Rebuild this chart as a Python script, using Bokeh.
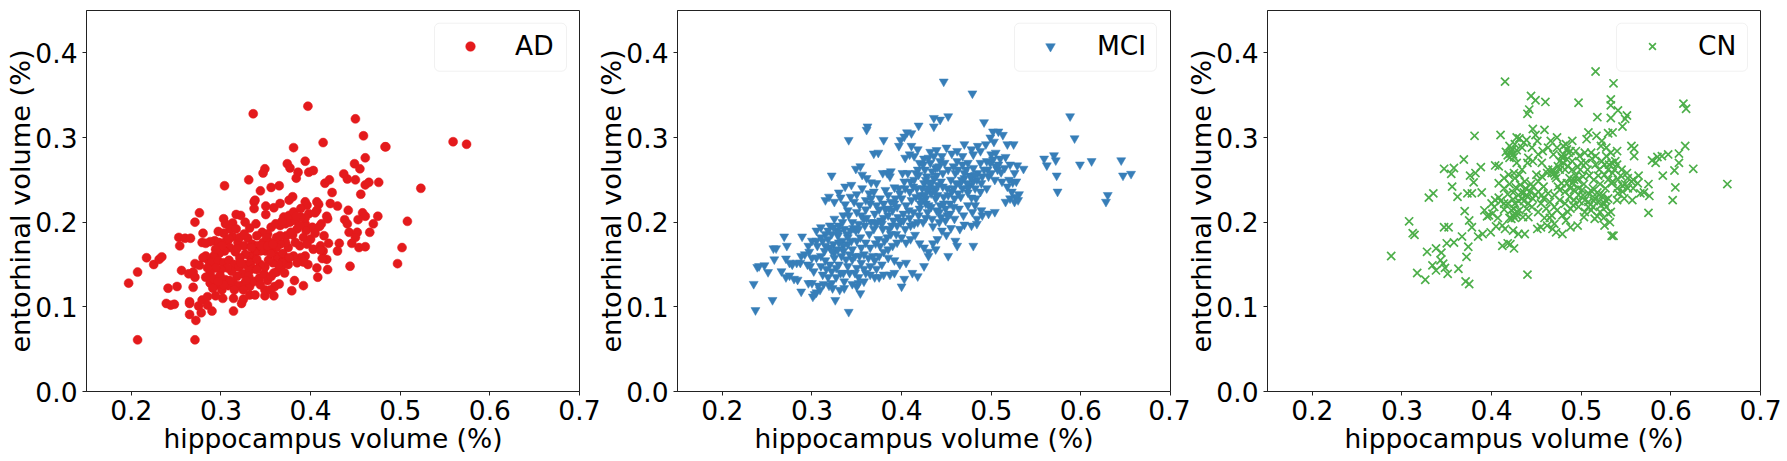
from bokeh.plotting import figure
from bokeh.layouts import row
from bokeh.models import Range1d, FixedTicker, Legend, LegendItem, BoxAnnotation, PrintfTickFormatter
from bokeh.embed import file_html
from bokeh.resources import INLINE

ad_points = [
(.197,.128),(.207,.141),(.217,.158),(.225,.150),(.231,.156),(.234,.159),(.241,.122),(.239,.104),(.244,.102),(.248,.103),
(.251,.124),(.207,.061),(.271,.061),(.265,.091),(.272,.084),(.265,.106),(.265,.104),(.269,.123),(.256,.143),(.254,.172),
(.253,.182),(.260,.181),(.266,.181),(.271,.200),(.276,.211),(.280,.187),(.279,.176),(.264,.139),(.269,.141),(.271,.151),
(.276,.149),(.271,.135),(.275,.101),(.278,.093),(.279,.108),(.285,.112),(.285,.102),(.290,.095),(.314,.095),(.314,.110),
(.323,.104),(.325,.109),(.302,.110),(.294,.113),(.332,.114),(.338,.114),(.349,.113),(.359,.113),(.349,.120),(.360,.124),
(.365,.127),(.379,.119),(.382,.131),(.392,.125),(.408,.135),(.407,.146),(.419,.144),(.444,.148),(.497,.151),(.502,.170),
(.508,.201),(.523,.240),(.559,.295),(.574,.292),(.483,.289),(.484,.289),(.476,.247),(.475,.207),(.470,.198),(.466,.188),
(.461,.276),(.459,.302),(.450,.322),(.449,.269),(.455,.263),(.450,.250),(.441,.251),(.437,.257),(.414,.294),(.381,.288),
(.397,.337),(.336,.328),(.394,.272),(.374,.269),(.377,.264),(.386,.259),(.398,.259),(.403,.261),(.384,.252),(.349,.263),
(.347,.258),(.331,.250),(.304,.243),(.356,.241),(.365,.243),(.344,.237),(.338,.226),(.337,.224),(.337,.216),(.416,.246),
(.421,.250),(.424,.235),(.456,.233),(.461,.244),(.465,.247),(.422,.222),(.430,.219),(.442,.214),(.458,.211),(.461,.207),
(.453,.203),(.418,.207),(.419,.204),(.438,.203),(.441,.198),(.443,.188),(.452,.188),(.450,.182),(.446,.175),(.454,.170),
(.461,.171),(.432,.175),(.430,.166),(.420,.175),(.415,.184),(.412,.198),(.407,.224),(.409,.221),(.407,.214),(.350,.219),
(.350,.209),(.359,.217),(.366,.222),(.376,.226),(.380,.230),(.394,.224),(.396,.220),(.398,.210),(.405,.211),(.366,.196),
(.372,.198),(.377,.200),(.383,.202),(.370,.206),(.376,.208),(.381,.212),(.389,.216),(.394,.198),(.402,.194),(.395,.190),
(.385,.192),(.380,.185),(.373,.184),(.392,.182),(.400,.180),(.388,.172),(.396,.174),(.403,.168),(.411,.172),(.414,.166),
(.418,.156),(.413,.157),(.394,.160),(.389,.158),(.381,.160),(.397,.150),(.392,.153),(.375,.170),(.372,.176),(.366,.174),
(.362,.182),(.356,.194),(.361,.198),(.368,.201),(.352,.186),(.346,.188),(.340,.184),(.339,.198),(.332,.193),(.330,.181),
(.327,.200),(.322,.208),(.317,.209),(.313,.199),(.303,.204),(.305,.198),(.310,.192),(.303,.187),(.297,.189),(.293,.178),
(.288,.177),(.283,.175),(.298,.176),(.306,.178),(.313,.183),(.319,.176),(.321,.182),(.326,.172),(.335,.174),(.341,.172),
(.347,.176),(.351,.182),(.355,.176),(.362,.170),(.356,.168),(.350,.166),(.344,.166),(.338,.164),(.332,.160),(.327,.162),
(.321,.158),(.316,.165),(.310,.170),(.304,.166),(.298,.163),(.292,.160),(.286,.155),(.283,.160),(.290,.152),(.297,.154),
(.303,.152),(.309,.155),(.315,.150),(.320,.147),(.327,.150),(.333,.152),(.336,.145),(.331,.142),(.324,.139),(.318,.136),
(.312,.142),(.307,.146),(.300,.144),(.294,.146),(.288,.140),(.283,.135),(.288,.128),(.292,.133),(.299,.137),(.305,.132),
(.297,.126),(.291,.122),(.301,.120),(.308,.125),(.314,.128),(.320,.125),(.326,.127),(.332,.124),(.337,.130),(.343,.134),
(.348,.139),(.352,.131),(.356,.136),(.362,.141),(.367,.146),(.371,.140),(.375,.150),(.369,.155),(.364,.150),(.358,.152),
(.353,.155),(.349,.147),(.344,.150),(.340,.144),(.362,.160),(.369,.163),(.356,.163),(.346,.172),(.352,.172),(.358,.174),
(.366,.184),(.388,.196),(.394,.205),(.389,.206),(.384,.207),(.378,.188),(.383,.176),(.376,.158),(.404,.192),(.410,.195),
(.340,.156),(.331,.136),(.328,.131),(.322,.152),(.310,.131),(.303,.126),(.315,.120),(.325,.120),(.297,.130),(.344,.126),
(.355,.120),(.334,.170),(.326,.186),(.317,.192),(.309,.180),(.301,.172),(.294,.168),(.285,.146),(.280,.158),(.318,.169),
(.359,.140),(.385,.152),(.411,.167),(.405,.187),
]

mci_points = [
(.235,.127),(.237,.096),(.256,.108),(.239,.147),(.241,.148),(.247,.149),(.251,.141),(.258,.156),(.257,.169),(.260,.169),
(.269,.183),(.272,.172),(.289,.183),(.266,.142),(.271,.157),(.275,.152),(.278,.150),(.283,.152),(.287,.152),(.271,.135),
(.275,.137),(.280,.133),(.284,.132),(.288,.118),(.296,.128),(.301,.112),(.305,.117),(.309,.120),(.313,.127),(.319,.125),
(.323,.122),(.326,.108),(.331,.120),(.336,.122),(.341,.094),(.345,.127),(.350,.124),(.354,.116),(.352,.128),(.358,.130),
(.447,.366),(.479,.352),(.588,.325),(.593,.299),(.559,.275),(.562,.267),(.570,.279),(.572,.273),(.573,.255),(.574,.236),
(.599,.268),(.612,.272),(.645,.273),(.647,.255),(.656,.257),(.630,.232),(.628,.224),(.536,.263),(.529,.267),(.525,.292),
(.518,.292),(.513,.303),(.492,.318),(.502,.307),(.508,.307),(.499,.300),(.503,.295),(.452,.325),(.436,.323),(.443,.321),
(.436,.313),(.419,.314),(.411,.305),(.406,.306),(.403,.301),(.399,.297),(.397,.290),(.388,.260),(.384,.258),(.362,.313),
(.361,.309),(.341,.297),(.380,.297),(.369,.281),(.374,.282),(.322,.255),(.349,.263),(.354,.266),(.356,.256),(.361,.252),
(.366,.247),(.372,.246),(.379,.258),(.387,.254),(.337,.242),(.344,.244),(.330,.235),(.315,.226),(.319,.230),(.325,.224),
(.332,.229),(.337,.221),(.343,.230),(.350,.233),(.356,.240),(.364,.234),(.369,.236),(.376,.228),(.382,.238),(.385,.232),
(.392,.241),(.398,.234),(.404,.240),(.410,.248),(.401,.258),(.407,.258),(.414,.250),(.419,.256),(.425,.246),(.428,.254),
(.434,.247),(.439,.255),(.444,.248),(.451,.240),(.455,.250),(.460,.258),(.463,.262),(.458,.266),(.470,.258),(.476,.255),
(.480,.264),(.485,.258),(.492,.262),(.499,.270),(.505,.266),(.510,.275),(.516,.277),(.511,.259),(.507,.262),(.521,.268),
(.526,.258),(.528,.248),(.524,.247),(.518,.242),(.523,.236),(.531,.233),(.527,.230),(.521,.228),(.526,.224),(.530,.226),
(.516,.224),(.504,.212),(.497,.210),(.490,.208),(.484,.204),(.489,.214),(.482,.220),(.478,.229),(.474,.235),(.468,.240),
(.463,.234),(.459,.228),(.454,.222),(.449,.216),(.443,.220),(.438,.228),(.433,.234),(.427,.228),(.421,.222),(.416,.230),
(.411,.226),(.405,.220),(.400,.228),(.395,.218),(.390,.214),(.385,.208),(.380,.205),(.375,.215),(.370,.210),(.365,.222),
(.360,.215),(.355,.208),(.350,.212),(.345,.200),(.340,.214),(.335,.208),(.330,.196),(.325,.204),(.320,.196),(.315,.186),
(.310,.194),(.305,.190),(.300,.178),(.297,.165),(.300,.158),(.306,.172),(.312,.178),(.318,.180),(.324,.174),(.329,.184),
(.334,.178),(.339,.186),(.344,.178),(.349,.190),(.354,.182),(.359,.196),(.364,.186),(.369,.192),(.374,.180),(.379,.192),
(.384,.182),(.389,.196),(.394,.186),(.399,.200),(.404,.192),(.409,.205),(.414,.198),(.419,.208),(.424,.200),(.429,.212),
(.434,.204),(.439,.214),(.444,.206),(.449,.202),(.454,.210),(.459,.204),(.464,.216),(.469,.208),(.474,.220),(.479,.212),
(.483,.228),(.476,.244),(.470,.252),(.465,.245),(.448,.270),(.443,.272),(.438,.264),(.432,.270),(.426,.262),(.420,.270),
(.414,.278),(.409,.280),(.404,.276),(.411,.290),(.418,.286),(.425,.275),(.432,.283),(.439,.285),(.445,.278),(.450,.288),
(.456,.281),(.462,.272),(.468,.278),(.474,.270),(.480,.280),(.488,.284),(.494,.292),(.485,.290),(.478,.286),(.470,.292),
(.462,.284),(.500,.280),(.495,.272),(.488,.270),(.505,.282),(.515,.264),(.520,.250),(.512,.248),(.504,.250),(.497,.254),
(.489,.246),(.482,.240),(.495,.240),(.488,.236),(.480,.248),(.472,.262),(.468,.268),(.416,.258),(.423,.240),(.431,.240),
(.437,.240),(.428,.238),(.421,.232),(.440,.232),(.447,.230),(.452,.232),(.458,.240),(.446,.242),(.452,.262),(.446,.258),
(.440,.265),(.434,.260),(.427,.222),(.433,.218),(.420,.216),(.413,.212),(.408,.214),(.402,.210),(.396,.206),(.391,.202),
(.386,.192),(.381,.178),(.376,.172),(.371,.175),(.365,.170),(.360,.176),(.355,.170),(.350,.178),(.345,.168),(.340,.174),
(.335,.166),(.330,.176),(.325,.164),(.320,.170),(.315,.172),(.310,.160),(.305,.158),(.310,.148),(.315,.155),(.320,.150),
(.325,.158),(.330,.150),(.335,.140),(.340,.148),(.345,.156),(.350,.146),(.355,.152),(.360,.140),(.365,.148),(.370,.155),
(.375,.160),(.380,.165),(.385,.168),(.390,.172),(.395,.176),(.400,.182),(.405,.176),(.410,.180),(.415,.185),(.420,.175),
(.425,.170),(.430,.165),(.435,.175),(.440,.180),(.445,.190),(.450,.185),(.455,.193),(.460,.178),(.465,.192),(.470,.197),
(.478,.196),(.484,.198),(.480,.172),(.462,.172),(.452,.160),(.438,.168),(.430,.160),(.425,.148),(.418,.136),(.412,.140),
(.400,.124),(.403,.133),(.392,.140),(.387,.138),(.380,.138),(.375,.135),(.370,.135),(.365,.138),(.358,.145),(.352,.135),
(.348,.140),(.342,.140),(.336,.130),(.332,.140),(.327,.135),(.322,.128),(.318,.135),(.312,.138),(.307,.125),(.303,.115),
(.300,.128),(.298,.148),(.302,.142),(.295,.150),(.292,.162),(.288,.160),(.296,.172),(.305,.178),(.310,.182),(.405,.152),
(.398,.150),(.392,.155),(.385,.158),(.378,.150),(.372,.145),(.368,.160),(.363,.158),(.358,.162),(.353,.160),(.348,.160),
(.342,.162),(.338,.156),(.333,.160),(.327,.146),(.322,.142),(.316,.145),(.346,.193),(.352,.198),(.358,.204),(.366,.200),
(.372,.198),(.377,.202),(.382,.215),(.388,.224),(.393,.228),(.397,.240),(.403,.248),(.409,.236),(.413,.242),(.417,.240),
(.372,.220),(.366,.228),(.360,.226),(.353,.220),(.347,.224),(.341,.208),(.334,.200),(.328,.190),(.322,.186),(.318,.190),
(.427,.250),(.431,.246),(.436,.252),(.441,.244),(.437,.236),(.426,.232),(.422,.226),(.430,.220),(.442,.212),(.447,.222),
(.456,.236),(.461,.246),(.467,.250),(.473,.246),(.478,.254),(.484,.250),(.490,.254),(.496,.262),(.502,.274),(.508,.268),
(.500,.258),(.482,.256),(.474,.240),(.466,.230),(.458,.218),(.451,.208),(.442,.200),(.435,.195),(.427,.205),(.418,.200),
(.410,.196),(.402,.202),(.395,.196),(.388,.186),(.378,.198),(.370,.200),(.361,.205),(.352,.192),(.343,.190),(.336,.192),
(.330,.188),(.324,.194),(.340,.182),(.335,.172),(.329,.168),(.322,.166),(.314,.166),(.392,.222),(.386,.216),(.380,.222),
(.418,.262),(.424,.268),(.430,.276),(.436,.278),(.442,.266),
]

cn_points = [
(.288,.160),(.308,.201),(.312,.187),(.314,.185),(.317,.140),(.326,.132),(.328,.165),(.330,.229),(.335,.234),(.338,.169),
(.334,.149),(.338,.143),(.344,.164),(.343,.155),(.346,.151),(.348,.146),(.351,.139),(.347,.194),(.352,.194),(.350,.175),
(.358,.176),(.363,.145),(.372,.159),(.371,.130),(.375,.127),(.374,.171),(.367,.183),(.347,.263),(.355,.257),(.358,.264),
(.369,.274),(.356,.242),(.362,.230),(.370,.213),(.375,.202),(.378,.194),(.385,.183),(.381,.302),(.388,.265),(.376,.255),
(.382,.258),(.380,.247),(.373,.234),(.378,.234),(.389,.235),(.410,.303),(.415,.366),(.440,.328),(.442,.333),(.444,.349),
(.449,.344),(.460,.342),(.497,.341),(.516,.378),(.536,.364),(.533,.345),(.533,.338),(.541,.332),(.518,.324),(.533,.323),
(.551,.326),(.549,.322),(.546,.313),(.614,.340),(.617,.334),(.616,.290),(.625,.263),(.663,.245),(.609,.281),(.609,.270),
(.604,.261),(.605,.241),(.602,.226),(.591,.255),(.597,.280),(.590,.278),(.585,.277),(.579,.273),(.583,.270),(.575,.245),
(.576,.231),(.575,.211),(.536,.184),(.534,.184),(.526,.196),(.440,.138),(.425,.169),(.418,.175),(.412,.172),(.421,.174),
(.390,.186),(.399,.188),(.412,.196),(.405,.195),(.395,.207),(.392,.214),(.401,.210),(.407,.205),(.403,.218),(.410,.225),
(.414,.222),(.408,.229),(.404,.267),(.408,.266),(.416,.283),(.420,.290),(.424,.280),(.420,.276),(.426,.292),(.431,.299),
(.436,.294),(.428,.300),(.441,.276),(.446,.310),(.449,.303),(.459,.309),(.466,.296),(.473,.300),(.480,.290),(.484,.286),
(.480,.280),(.476,.272),(.484,.274),(.490,.272),(.494,.284),(.490,.296),(.508,.306),(.506,.298),(.517,.302),(.523,.296),
(.530,.305),(.535,.306),(.528,.288),(.533,.282),(.540,.284),(.556,.290),(.559,.287),(.559,.278),(.538,.272),(.526,.268),
(.520,.262),(.530,.262),(.535,.258),(.541,.250),(.551,.258),(.556,.248),(.564,.255),(.558,.240),(.552,.240),(.546,.236),
(.540,.240),(.548,.228),(.557,.226),(.566,.234),(.530,.228),(.528,.218),(.530,.210),(.521,.212),(.518,.207),(.511,.214),
(.508,.224),(.504,.212),(.498,.225),(.492,.226),(.488,.216),(.496,.196),(.488,.194),(.479,.186),(.472,.188),(.468,.192),
(.462,.196),(.455,.194),(.459,.205),(.452,.212),(.445,.218),(.441,.206),(.435,.206),(.428,.208),(.424,.208),(.422,.204),
(.431,.214),(.437,.186),(.430,.186),(.424,.190),(.414,.215),(.418,.222),(.424,.227),(.430,.232),(.436,.225),(.440,.230),
(.446,.228),(.452,.236),(.458,.228),(.465,.224),(.470,.232),(.476,.238),(.482,.236),(.487,.230),(.492,.238),(.496,.250),
(.502,.254),(.507,.262),(.513,.240),(.518,.235),(.524,.232),(.527,.240),(.534,.246),(.521,.245),(.515,.228),(.508,.234),
(.502,.232),(.497,.240),(.490,.246),(.484,.246),(.478,.246),(.472,.252),(.468,.262),(.462,.258),(.456,.254),(.450,.256),
(.444,.245),(.438,.240),(.432,.244),(.426,.252),(.420,.245),(.414,.240),(.418,.233),(.424,.235),(.430,.225),(.436,.235),
(.441,.222),(.446,.242),(.452,.248),(.458,.242),(.463,.234),(.470,.218),(.476,.226),(.482,.222),(.488,.240),(.494,.255),
(.499,.262),(.505,.270),(.511,.282),(.516,.278),(.522,.290),(.528,.278),(.523,.272),(.531,.268),(.537,.262),(.544,.255),
(.549,.245),(.545,.262),(.530,.250),(.522,.220),(.514,.225),(.508,.218),(.503,.206),(.515,.204),(.525,.205),(.532,.200),
(.500,.270),(.496,.265),(.490,.262),(.482,.262),(.476,.262),(.470,.258),(.463,.262),(.456,.270),(.452,.280),(.446,.272),
(.440,.270),(.434,.262),(.428,.270),(.422,.284),(.428,.285),(.434,.288),(.439,.297),(.445,.288),(.451,.296),(.457,.284),
(.463,.288),(.469,.280),(.473,.288),(.478,.278),(.486,.282),(.483,.292),(.488,.284),(.498,.278),(.504,.282),(.512,.275),
(.516,.268),(.509,.255),(.503,.245),(.497,.232),(.491,.220),(.485,.212),(.479,.208),(.473,.214),(.467,.208),(.461,.216),
(.455,.222),(.449,.232),(.443,.236),(.437,.248),(.431,.256),(.425,.258),(.419,.256),(.414,.252),(.408,.246),(.404,.226),
(.400,.222),(.397,.208),(.415,.192),(.420,.205),(.426,.205),(.451,.192),(.465,.205),(.470,.198),(.483,.202),(.513,.218),
(.520,.225),(.527,.226),(.533,.212),(.540,.226),(.546,.243),(.552,.252),(.558,.250),(.563,.246),(.570,.235),(.425,.216),
(.439,.216),(.456,.232),(.474,.242),(.487,.252),(.501,.238),(.514,.250),(.519,.255),(.526,.256),(.534,.270),(.540,.268),
(.423,.286),(.421,.281),(.425,.277),(.418,.279),(.480,.270),(.485,.266),(.479,.276),(.474,.266),(.467,.258),(.471,.255),
(.427,.241),(.433,.235),(.439,.232),(.434,.228),(.426,.222),(.422,.214),(.428,.212),(.512,.236),(.520,.232),(.526,.222),
(.535,.248),(.541,.234),(.504,.226),(.497,.218),(.492,.250),
]

ad_label, mci_label, cn_label = "AD", "MCI", "CN"
x_label, y_label = "hippocampus volume (%)", "entorhinal volume (%)"
x_ticks = [0.2, 0.3, 0.4, 0.5, 0.6, 0.7]
y_ticks = [0.0, 0.1, 0.2, 0.3, 0.4]

FONT = "DejaVu Sans"
FS = "26.5px"
FS_Y = "27.2px"


def panel(points, label, color, marker, size, border_r, overlap, box_px, glyph_px, text_px):
    border_l = 86
    frame_w = 493
    width = border_l + frame_w + border_r
    p = figure(width=width, height=460, output_backend="svg", toolbar_location=None,
               x_range=Range1d(0.15, 0.7), y_range=Range1d(0, 0.45),
               min_border_left=border_l, min_border_right=border_r, min_border_top=10, min_border_bottom=69,
               background_fill_color="white", border_fill_color=None,
               margin=(0, 0, 0, overlap))
    p.grid.visible = False
    p.outline_line_color = "#222222"
    p.outline_line_width = 1
    for ax, ticks, text in ((p.xaxis[0], x_ticks, x_label), (p.yaxis[0], y_ticks, y_label)):
        ax.ticker = FixedTicker(ticks=ticks)
        ax.formatter = PrintfTickFormatter(format="%.1f")
        ax.axis_label = text
        ax.axis_label_text_font = FONT
        ax.axis_label_text_font_style = "normal"
        ax.axis_label_text_font_size = FS
        ax.axis_label_text_color = "black"
        ax.major_label_text_font = FONT
        ax.major_label_text_font_size = FS
        ax.major_label_text_color = "black"
        ax.major_tick_out = 4
        ax.major_tick_in = 0
        ax.minor_tick_out = 0
        ax.minor_tick_in = 0
        ax.major_tick_line_color = "#222222"
        ax.axis_line_color = "#222222"
    p.yaxis[0].major_label_orientation = "horizontal"
    p.yaxis[0].axis_label_text_font_size = FS_Y
    p.xaxis[0].axis_label_standoff = 0
    p.yaxis[0].axis_label_standoff = -4
    p.xaxis[0].major_label_standoff = 4
    p.yaxis[0].major_label_standoff = 5

    # rounded legend frame, placed through the panel's own scales
    to_x = lambda px: 0.15 + (px - box_px[2]) / frame_w * 0.55
    to_y = lambda py: (391.3 - py) / 846.7
    p.add_layout(BoxAnnotation(left=to_x(box_px[0]), right=to_x(box_px[1]), top=to_y(23), bottom=to_y(71),
                               fill_color="white", fill_alpha=0.8, line_color="#cfcfcf", line_width=1,
                               border_radius=5, level="annotation"))

    xs = [a for a, b in points]
    ys = [b for a, b in points]
    kw = dict(size=size, marker=marker, line_color=color)
    if marker == "x":
        r = p.scatter(xs, ys, line_width=1.7, **kw)
    else:
        r = p.scatter(xs, ys, fill_color=color, line_width=0.5, **kw)

    pad = 12
    glyph_w = (glyph_px - box_px[0] - pad) * 2
    leg = Legend(items=[LegendItem(label=label, renderers=[r])],
                 location=(box_px[0] - box_px[2], 391 - 71 - 2), orientation="vertical",
                 margin=0, padding=pad, spacing=0, glyph_width=glyph_w, glyph_height=24,
                 label_standoff=text_px - box_px[0] - pad - glyph_w,
                 label_text_font=FONT, label_text_font_size=FS, label_text_color="black",
                 border_line_alpha=0, background_fill_alpha=0, level="annotation")
    p.add_layout(leg)
    return p


p1 = panel(ad_points, ad_label, "#e41a1c", "circle", 9, 21, 0, (434, 566, 86), 470, 515)
p2 = panel(mci_points, mci_label, "#377eb8", "inverted_triangle", 9, 20, -9, (1014, 1156, 677), 1050, 1097)
p3 = panel(cn_points, cn_label, "#4daf4a", "x", 11.5, 25, -9, (1616, 1747, 1267), 1652, 1698)

page = row(p1, p2, p3, spacing=0)
open("out.html", "w").write(file_html(page, INLINE))
